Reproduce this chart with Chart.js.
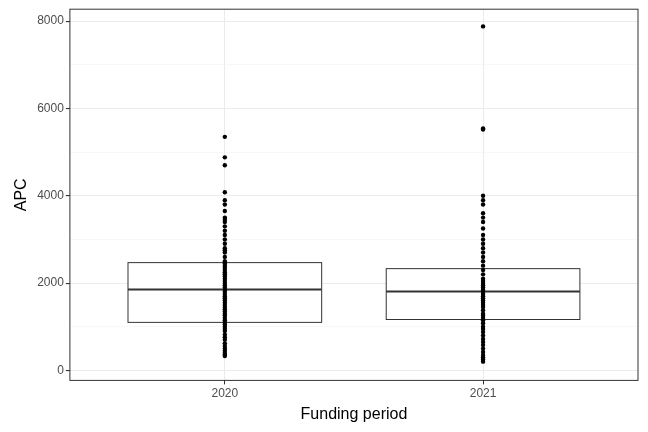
<!DOCTYPE html>
<html><head><meta charset="utf-8">
<script src="https://cdn.jsdelivr.net/npm/chart.js@4"></script>
<style>html,body{margin:0;background:#fff}#w{width:648px;height:432px}</style>
</head><body><div id="w"><canvas id="c"></canvas></div>
<script>
const categories = ['2020','2021'];
const q1 = [1100, 1166];
const median = [1851, 1806];
const q3 = [2469, 2331];
const points2020 = [330,360,400,450,500,560,620,700,760,820,900,950,1000,1050,1100,1150,1200,1260,1300,1350,1400,1450,1500,1550,1600,1650,1700,1750,1800,1850,1900,1950,2000,2050,2100,2150,2200,2250,2300,2350,2400,2450,2500,2600,2700,2750,2800,2900,3000,3100,3200,3300,3400,3450,3500,3650,3800,3900,4080,4700,4880,5350];
const points2021 = [200,250,300,350,420,500,580,650,720,800,880,950,1000,1080,1150,1200,1250,1300,1380,1450,1500,1550,1600,1650,1700,1750,1800,1850,1900,1950,2000,2050,2100,2200,2300,2400,2500,2600,2700,2800,2900,3000,3100,3250,3400,3500,3600,3800,3900,4000,5520,5540,7880];
const allPoints=[points2020,points2021];
const pts=[];
allPoints.forEach((arr,i)=>arr.forEach(v=>pts.push({x:i+1,y:v})));
const boxPlugin={id:'box',
 beforeDatasetsDraw(ch){const {ctx,scales:{x,y}}=ch;ctx.save();ctx.strokeStyle='#333';
  categories.forEach((c,i)=>{const l=x.getPixelForValue(i+1-0.375),r=x.getPixelForValue(i+1+0.375);
   const t=y.getPixelForValue(q3[i]),b=y.getPixelForValue(q1[i]),m=y.getPixelForValue(median[i]);
   ctx.fillStyle='#fff';ctx.lineWidth=1;ctx.fillRect(l,t,r-l,b-t);ctx.strokeRect(l,t,r-l,b-t);
   ctx.lineWidth=2;ctx.beginPath();ctx.moveTo(l,m);ctx.lineTo(r,m);ctx.stroke();});
  ctx.restore();},
 afterDraw(ch){const a=ch.chartArea,ctx=ch.ctx;ctx.save();ctx.strokeStyle='#333';ctx.lineWidth=1;ctx.strokeRect(a.left,a.top,a.right-a.left,a.bottom-a.top);ctx.restore();}};
new Chart(document.getElementById('c'),{type:'scatter',
 data:{datasets:[{data:pts,backgroundColor:'#000',borderColor:'#000',pointRadius:2.2,borderWidth:0}]},
 options:{responsive:true,maintainAspectRatio:false,animation:false,
  layout:{padding:{top:8,right:10,left:8,bottom:4}},
  plugins:{legend:{display:false},tooltip:{enabled:false}},
  scales:{
   x:{type:'linear',min:0.4,max:2.6,
    afterBuildTicks(s){s.ticks=[{value:1},{value:2}];},
    ticks:{callback:(v)=>categories[v-1]||'',color:'#4d4d4d',font:{family:'Liberation Sans',size:12},padding:2},
    grid:{color:'#ebebeb',lineWidth:1,tickLength:4,tickColor:'#333'},border:{display:false},
    title:{display:true,text:'Funding period',color:'#000',font:{family:'Liberation Sans',size:16},padding:{top:2}}},
   y:{min:-229,max:8274,
    afterBuildTicks(s){const t=[];for(let v=0;v<=8000;v+=1000)t.push({value:v});s.ticks=t;},
    ticks:{callback:(v)=>v%2000===0?String(v):'',color:'#4d4d4d',font:{family:'Liberation Sans',size:12},padding:2},
    grid:{color:(c)=>c.tick&&c.tick.value%2000===0?'#ebebeb':'#f4f4f4',lineWidth:(c)=>c.tick&&c.tick.value%2000===0?1.1:0.6,tickLength:4,tickColor:(c)=>c.tick&&c.tick.value%2000===0?'#333':'rgba(0,0,0,0)'},border:{display:false},
    title:{display:true,text:'APC',color:'#000',font:{family:'Liberation Sans',size:16},padding:{bottom:4}}}}},
 plugins:[boxPlugin]});
</script></body></html>
